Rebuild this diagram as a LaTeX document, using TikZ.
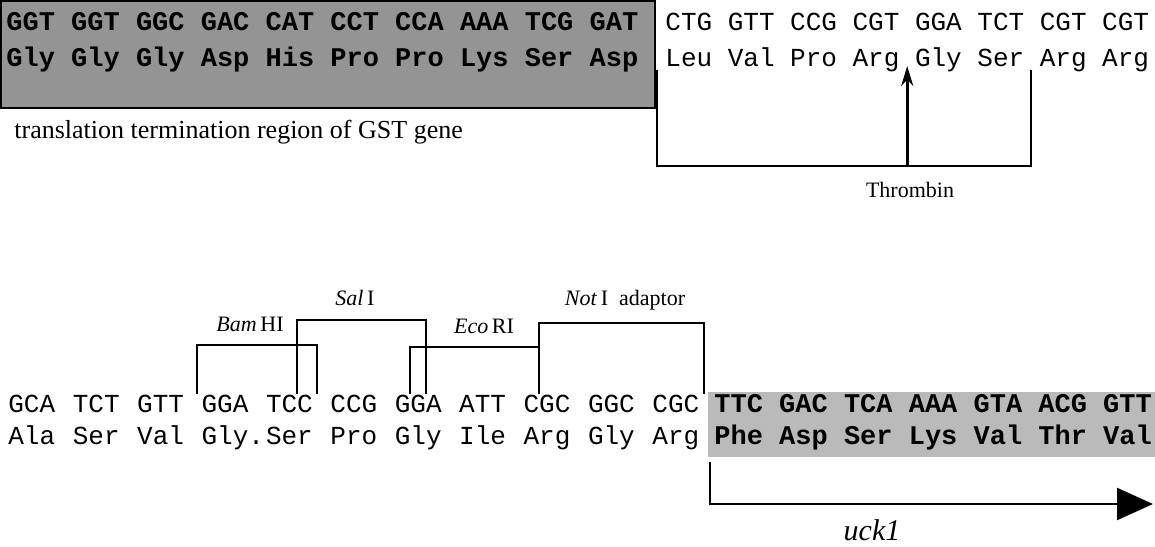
\documentclass[tikz,border=0pt]{standalone}
\usepackage{fontspec}
\setmainfont{Liberation Serif}
\newfontfamily\seqfont{Liberation Mono}
\usetikzlibrary{arrows.meta,calc}

\tikzset{
  codon/.style={inner sep=0pt, anchor=base west, font=\seqfont\fontsize{13}{13}\selectfont},
  shaded/.style={codon, font=\seqfont\bfseries\fontsize{13.5}{13.5}\selectfont},
  site/.style={line width=1pt},
  enzyme/.style={inner sep=1pt, font=\fontsize{11}{11}\selectfont},
}

\begin{document}
\begin{tikzpicture}[x=0.5pt,y=-0.5pt]
  \useasboundingbox (0,0) rectangle (1155,546);
  % GST end (shaded) and thrombin site
  \draw[line width=1.2pt, fill=black!42] (1,1) rectangle (655,108);
  \foreach \c [count=\i] in {GGT,GGT,GGC,GAC,CAT,CCT,CCA,AAA,TCG,GAT}
    \node[shaded] (g\i) at ({6+(\i-1)*64.8},30) {\c};
  \foreach \c [count=\i] in {Gly,Gly,Gly,Asp,His,Pro,Pro,Lys,Ser,Asp}
    \node[shaded] (ga\i) at ({6+(\i-1)*64.8},66) {\c};
  \foreach \c [count=\i] in {CTG,GTT,CCG,CGT,GGA,TCT,CGT,CGT}
    \node[codon] (t\i) at ({665+(\i-1)*62.4},30) {\c};
  \foreach \c [count=\i] in {Leu,Val,Pro,Arg,Gly,Ser,Arg,Arg}
    \node[codon] (ta\i) at ({665+(\i-1)*62.4},66) {\c};
  \node[anchor=base west, inner sep=0pt, font=\fontsize{13}{13}\selectfont] (gst) at (14,138) {translation termination region of GST gene};

  \coordinate (thL) at ([xshift=-4pt,yshift=-2pt]ta1.base west);
  \coordinate (thR) at ([xshift=3pt,yshift=-2pt]ta6.base east);
  \coordinate (thLv) at (0,166);
  \coordinate (cut) at ($(ta4.base east)!0.5!(ta5.base west)$);
  \draw[site] (thL) -- (thL |- thLv) -| (thR);
  \draw[line width=1.3pt, -{Stealth[length=10pt,width=6pt]}] (cut |- thLv) -- (cut);
  \node[font=\fontsize{11}{11}\selectfont] (thr) at (910,190) {Thrombin};

  % cloning sites and uck1 start
  \fill[black!27] (708,392) rectangle (1155,457);
  \foreach \c [count=\i] in {GCA,TCT,GTT,GGA,TCC,CCG,GGA,ATT,CGC,GGC,CGC}
    \node[codon] (b\i) at ({8+(\i-1)*64.4},412) {\c};
  \foreach \c [count=\i] in {Ala,Ser,Val,Gly.,Ser,Pro,Gly,Ile,Arg,Gly,Arg}
    \node[codon] (ba\i) at ({8+(\i-1)*64.4},444) {\c};
  \foreach \c [count=\i] in {TTC,GAC,TCA,AAA,GTA,ACG,GTT}
    \node[shaded] (u\i) at ({714+(\i-1)*64.8},412) {\c};
  \foreach \c [count=\i] in {Phe,Asp,Ser,Lys,Val,Thr,Val}
    \node[shaded] (ua\i) at ({714+(\i-1)*64.8},444) {\c};

  \coordinate (bamL) at ([xshift=-2pt]b4.north west);
  \coordinate (bamR) at ([xshift=2pt]b5.north east);
  \coordinate (salL) at ($(b5.north west)!0.667!(b5.north east)$);
  \coordinate (salR) at ($(b7.north west)!0.667!(b7.north east)$);
  \coordinate (ecoL) at ($(b7.north west)!0.333!(b7.north east)$);
  \coordinate (ecoR) at ($(b9.north west)!0.333!(b9.north east)$);
  \coordinate (notR) at ([xshift=2pt]b11.north east);
  \coordinate (bamLv) at (0,345);
  \coordinate (salLv) at (0,320);
  \coordinate (ecoLv) at (0,347);
  \coordinate (notLv) at (0,323);
  \draw[site] (bamL) -- (bamL |- bamLv) -| (bamR);
  \draw[site] (salL) -- (salL |- salLv) -| (salR);
  \draw[site] (ecoL) -- (ecoL |- ecoLv) -| (ecoR);
  \draw[site] (ecoR) -- (ecoR |- notLv) -| (notR);
  \node[enzyme] (bam) at (250,324) {\textit{Bam}\,HI};
  \node[enzyme] (sal) at (355,298) {\textit{Sal}\,I};
  \node[enzyme] (eco) at (484,326) {\textit{Eco}\,RI};
  \node[enzyme] (not) at (625,300) {\textit{Not}\,I\enspace adaptor};

  \coordinate (orfS) at (710,462);
  \coordinate (orfE) at (1153,504);
  \draw[line width=1.2pt, -{Triangle[length=18pt,width=16pt]}] (orfS) |- (orfE);
  \node[font=\itshape\fontsize{15}{15}\selectfont] (uck) at (872,530) {uck1};
\end{tikzpicture}
\end{document}
